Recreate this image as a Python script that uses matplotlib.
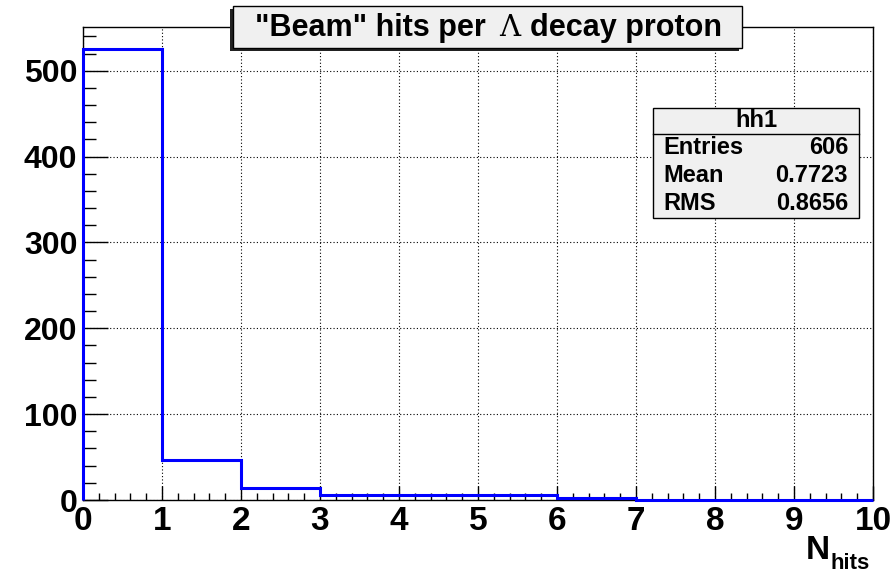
import matplotlib.pyplot as plt
import matplotlib.patches as patches
from matplotlib import font_manager
import numpy as np

# === DATA ===
bin_edges = [0, 1, 2, 3, 4, 5, 6, 7, 8, 9, 10]
counts = [525, 47, 14, 6, 6, 6, 2, 0, 0, 0]
title_left = '"Beam" hits per'
title_greek = '\u039b'
title_right = 'decay proton'
stats_name = "hh1"
stats_labels = ["Entries", "Mean", "RMS"]
stats_values = ["606", "0.7723", "0.8656"]

# === STYLE ===
W, H = 896, 574
FONT = "Liberation Sans"
names = {f.name for f in font_manager.fontManager.ttflist}
NARROW = "Liberation Sans Narrow" if "Liberation Sans Narrow" in names else FONT
plt.rcParams['font.family'] = [FONT, 'DejaVu Sans']

fig = plt.figure(figsize=(W / 100, H / 100), dpi=100)
x0, x1, y0, y1 = 83, 873, 27, 500
ax = fig.add_axes([x0 / W, 1 - y1 / H, (x1 - x0) / W, (y1 - y0) / H])

ax.stairs(counts, bin_edges, color='#0000ff', linewidth=2.2, baseline=0,
          zorder=5, clip_on=False)

ax.set_xlim(0, 10)
ax.set_ylim(0, 551)
ax.set_xticks(np.arange(0, 11, 1))
ax.set_xticks(np.arange(0, 10.01, 0.2), minor=True)
ax.set_yticks(np.arange(0, 501, 100))
ax.set_yticks(np.arange(0, 551, 20), minor=True)

ax.grid(True, which='major', linestyle=(0, (1, 2)), color='black',
        linewidth=0.8)
ax.tick_params(axis='x', which='major', direction='in', length=10,
               width=1, labelsize=24, pad=4)
ax.tick_params(axis='x', which='minor', direction='in', length=5, width=1)
ax.tick_params(axis='y', which='major', direction='in', length=18,
               width=1, labelsize=23, pad=4)
ax.tick_params(axis='y', which='minor', direction='in', length=9, width=1)
for lab in ax.get_xticklabels():
    lab.set_fontweight('bold')
    lab.set_family(NARROW)
for lab in ax.get_yticklabels():
    lab.set_fontweight('bold')
for sp in ax.spines.values():
    sp.set_linewidth(1.0)

# x axis title
fig.text(806 / W, 1 - 559 / H, "N", fontsize=24, fontweight='bold',
         family=NARROW, ha='left', va='baseline')
fig.text(830 / W, 1 - 569 / H, "hits", fontsize=16, fontweight='bold',
         family=NARROW, ha='left', va='baseline')


def box(l, t, r, b, shadow=(0, 0), fc='#f0f0f0'):
    if shadow != (0, 0):
        fig.patches.append(patches.Rectangle(
            ((l + shadow[0]) / W, 1 - (b + shadow[1]) / H), (r - l) / W,
            (b - t) / H, transform=fig.transFigure, facecolor='#222222',
            edgecolor='none', zorder=5))
    fig.patches.append(patches.Rectangle(
        (l / W, 1 - b / H), (r - l) / W, (b - t) / H,
        transform=fig.transFigure, facecolor=fc, edgecolor='black',
        linewidth=1.0, zorder=6))


# title box, shadow to the lower left
box(233, 6, 742, 48, shadow=(-3, 3))
ty = 1 - 28 / H
fig.text(510 / W, ty, title_greek, fontsize=21, family='DejaVu Serif',
         ha='center', va='center', zorder=7)
fig.text(486 / W, ty, title_left, fontsize=22, fontweight='bold',
         ha='right', va='center', zorder=7)
fig.text(530 / W, ty, title_right, fontsize=22, fontweight='bold',
         ha='left', va='center', zorder=7)

# stats box
sl, st, sr, sb = 653, 108, 859, 218
box(sl, st, sr, sb)
fig.add_artist(plt.Line2D([sl / W, sr / W], [1 - 134 / H, 1 - 134 / H],
                          color='black', linewidth=1.0, zorder=7))
fig.text((sl + sr) / 2 / W, 1 - 121 / H, stats_name, fontsize=17,
         fontweight='bold', ha='center', va='center', zorder=7)
for i, (lab, val) in enumerate(zip(stats_labels, stats_values)):
    yy = 1 - (148 + 27.5 * i) / H
    fig.text(663 / W, yy, lab, fontsize=17, fontweight='bold',
             ha='left', va='center', zorder=7)
    fig.text(848 / W, yy, val, fontsize=17, fontweight='bold',
             ha='right', va='center', zorder=7)

fig.savefig("out.png", dpi=100)
